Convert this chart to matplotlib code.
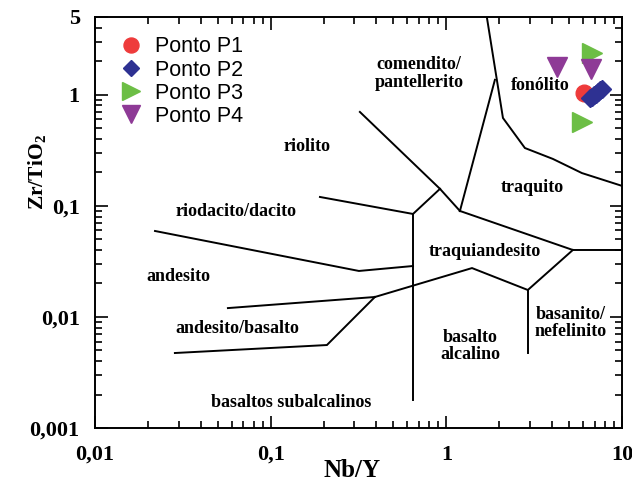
import numpy as np
import matplotlib
matplotlib.use('Agg')
import matplotlib.pyplot as plt
from matplotlib.ticker import LogLocator, NullFormatter

plt.rcParams['font.family'] = ['Liberation Serif']
plt.rcParams['mathtext.fontset'] = 'custom'
plt.rcParams['mathtext.rm'] = 'Liberation Serif:bold'
plt.rcParams['mathtext.bf'] = 'Liberation Serif:bold'

# limites do diagrama Winchester & Floyd (Nb/Y, Zr/TiO2)
linha_fonolito = [(1.70, 5.0), (2.10, 0.617), (2.80, 0.331), (4.04, 0.264), (5.91, 0.197), (10.0, 0.151)]
linha_traquito = [(1.195, 0.0898), (1.89, 1.36)]
linha_comendito = [(0.322, 0.699), (0.920, 0.142), (1.195, 0.0898)]
linha_juncao = [(0.920, 0.142), (0.646, 0.0844)]
linha_riolito = [(0.1908, 0.120), (0.646, 0.0844)]
linha_vertical = [(0.646, 0.0844), (0.646, 0.00179)]
linha_traquiand = [(1.195, 0.0898), (5.25, 0.040), (10.0, 0.040)]
linha_basanito = [(5.25, 0.040), (2.91, 0.01746), (1.40, 0.0275), (0.392, 0.0151)]
linha_basanito_v = [(2.91, 0.01746), (2.91, 0.00473)]
linha_and_bas = [(0.0571, 0.0120), (0.392, 0.0151)]
linha_subalc = [(0.392, 0.0151), (0.209, 0.00558), (0.0285, 0.00473)]
linha_andesito = [(0.02196, 0.0593), (0.318, 0.0259), (0.646, 0.0287)]

limites = [linha_fonolito, linha_traquito, linha_comendito, linha_juncao, linha_riolito,
           linha_vertical, linha_traquiand, linha_basanito, linha_basanito_v,
           linha_and_bas, linha_subalc, linha_andesito]

# amostras
p1_x = [6.07]
p1_y = [1.036]
p2_x = [6.57, 6.75, 6.92, 7.10, 7.29, 7.50, 7.69]
p2_y = [0.934, 0.96, 0.994, 1.02, 1.057, 1.09, 1.125]
p3_x = [6.73, 5.90]
p3_y = [2.36, 0.572]
p4_x = [4.29, 6.64]
p4_y = [1.76, 1.69]

rotulos = ['comendito/\npantellerito', 'fonólito', 'riolito', 'traquito', 'riodacito/dacito',
           'traquiandesito', 'andesito', 'andesito/basalto', 'basalto\nalcalino',
           'basanito/\nnefelinito', 'basaltos subalcalinos']
rotulos_x = [0.698, 3.41, 0.161, 3.07, 0.0635, 1.659, 0.0297, 0.0643, 1.362, 5.12, 0.1305]
rotulos_y = [1.54, 1.20, 0.338, 0.1446, 0.0879, 0.0384, 0.0229, 0.00778, 0.00547, 0.00881, 0.00171]

xticks = [0.01, 0.1, 1, 10]
xticklabels = ['0,01', '0,1', '1', '10']
yticks = [0.001, 0.01, 0.1, 1, 5]
yticklabels = ['0,001', '0,01', '0,1', '1', '5']

fig = plt.figure(figsize=(6.32, 4.84), dpi=100)
ax = fig.add_axes([0.1503, 0.1157, 0.8339, 0.8492])
ax.set_xscale('log')
ax.set_yscale('log')
ax.set_xlim(0.01, 10)
ax.set_ylim(0.001, 5)

for linha in limites:
    xs, ys = zip(*linha)
    ax.plot(xs, ys, color='black', lw=1.4, solid_joinstyle='miter')

for t, x, y in zip(rotulos, rotulos_x, rotulos_y):
    ax.text(x, y, t, ha='center', va='center', fontsize=13, fontweight='bold',
            linespacing=1.05)

ax.plot(p1_x, p1_y, 'o', ls='none', color='#EE3B3B', ms=12, label='Ponto P1')
ax.plot(p2_x, p2_y, 'D', ls='none', color='#2E3192', ms=9.5, label='Ponto P2')
ax.plot(p3_x, p3_y, '>', ls='none', color='#6CBE45', ms=14, label='Ponto P3')
ax.plot(p4_x, p4_y, 'v', ls='none', color='#8E3A96', ms=14, label='Ponto P4')

leg = ax.legend(loc='upper left', frameon=False, prop={'family': 'Liberation Sans', 'size': 15.5},
                handletextpad=0.4, labelspacing=0.1, borderaxespad=0.45, handlelength=1.5,
                borderpad=0.45, markerscale=0.9)

ax.set_xticks(xticks)
ax.set_xticklabels(xticklabels)
ax.set_yticks(yticks)
ax.set_yticklabels(yticklabels)
ax.xaxis.set_minor_locator(LogLocator(base=10, subs=np.arange(2, 10)))
ax.yaxis.set_minor_locator(LogLocator(base=10, subs=np.arange(2, 10)))
ax.xaxis.set_minor_formatter(NullFormatter())
ax.yaxis.set_minor_formatter(NullFormatter())
for lab in ax.get_xticklabels() + ax.get_yticklabels():
    lab.set_fontweight('bold')
ax.tick_params(which='both', direction='in', top=True, right=True, width=1.2)
ax.tick_params(which='major', length=9, labelsize=16)
ax.tick_params(which='minor', length=5)
ax.tick_params(axis='x', which='major', pad=12)
ax.tick_params(axis='y', which='major', pad=11)
for s in ax.spines.values():
    s.set_linewidth(1.4)

ax.set_xlabel('Nb/Y', fontsize=18, fontweight='bold')
ax.set_ylabel(r'Zr/TiO$_2$', fontsize=15.5, fontweight='bold')
ax.xaxis.set_label_coords(0.488, -0.076)
ax.yaxis.set_label_coords(-0.088, 0.623)

fig.savefig('out.png', dpi=100)
